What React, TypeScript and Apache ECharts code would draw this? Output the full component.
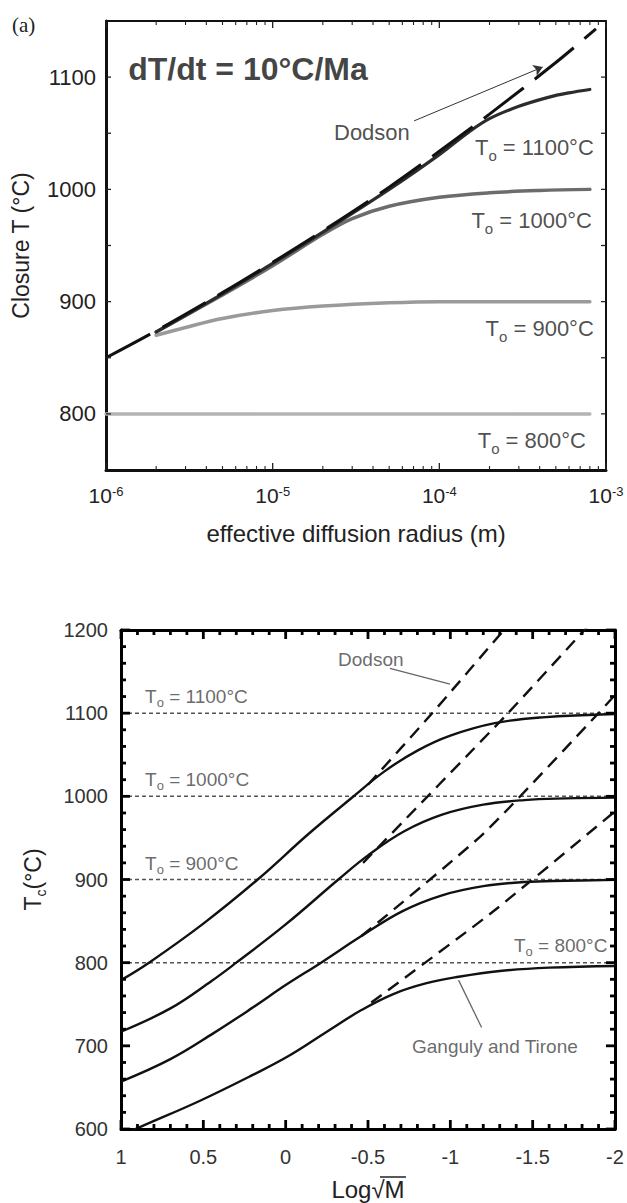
import React, { useEffect, useRef } from "react";
import * as echarts from "echarts";

const FONT = "'Liberation Sans', Arial, Helvetica, sans-serif";

// ---------- Top chart (a): closure T vs effective diffusion radius ----------
const topXMajorTicks = [1e-6, 1e-5, 1e-4, 1e-3];
const topXMinorTicks = [
  2e-6, 3e-6, 4e-6, 5e-6, 6e-6, 7e-6, 8e-6, 9e-6,
  2e-5, 3e-5, 4e-5, 5e-5, 6e-5, 7e-5, 8e-5, 9e-5,
  2e-4, 3e-4, 4e-4, 5e-4, 6e-4, 7e-4, 8e-4, 9e-4,
];
const topYTicks = [800, 900, 1000, 1100];
const topYTickMarks = [800, 850, 900, 950, 1000, 1050, 1100];
const topXRange = [1e-6, 1e-3];
const topYRange = [750, 1150];

const radiusDodson = [1e-6, 2e-6, 5e-6, 1e-5, 2e-5, 5e-5, 1e-4, 2e-4, 5e-4, 8.7e-4];
const closureDodson = [850, 874, 908, 935, 963, 1002, 1034, 1067, 1113, 1143];

const radius1100 = [2e-6, 5e-6, 1e-5, 2e-5, 5e-5, 1e-4, 1.5e-4, 2e-4, 3e-4, 4.5e-4, 6e-4, 8e-4];
const closure1100 = [873, 907, 934, 962, 1000, 1031, 1051, 1063, 1074, 1082, 1086, 1089];

const radius1000 = [2e-6, 5e-6, 1e-5, 2e-5, 3e-5, 5e-5, 1e-4, 2e-4, 4e-4, 8e-4];
const closure1000 = [873, 906, 932, 960, 974, 985, 993, 997, 999, 1000];

const radius900 = [2e-6, 3e-6, 5e-6, 1e-5, 2e-5, 5e-5, 1e-4, 8e-4];
const closure900 = [870, 877, 885, 892, 896, 899, 900, 900];

const radius800 = [1e-6, 8e-4];
const closure800 = [800, 800];

const topLabelTexts = ["T{s|o} = 1100°C", "T{s|o} = 1000°C", "T{s|o} = 900°C", "T{s|o} = 800°C"];
const topLabelX = [8.45e-4, 8.23e-4, 8.45e-4, 7.58e-4];
const topLabelY = [1037, 972, 876, 776];

const topTitle = "dT/dt = 10°C/Ma";
const topTitleAt = [1.36e-6, 1107];
const topDodsonAt = [3.94e-5, 1051];
const topArrowFrom = [7.05e-5, 1061];
const topArrowTo = [4.17e-4, 1109];

// ---------- Bottom chart: Tc vs Log sqrt(M) ----------
const botXMajorTicks = [1, 0.5, 0, -0.5, -1, -1.5, -2];
const botXMinorTicks = [
  0.9, 0.8, 0.7, 0.6, 0.4, 0.3, 0.2, 0.1, -0.1, -0.2, -0.3, -0.4,
  -0.6, -0.7, -0.8, -0.9, -1.1, -1.2, -1.3, -1.4, -1.6, -1.7, -1.8, -1.9,
];
const botYMajorTicks = [600, 700, 800, 900, 1000, 1100, 1200];
const botYMinorTicks = [
  620, 640, 660, 680, 720, 740, 760, 780, 820, 840, 860, 880,
  920, 940, 960, 980, 1020, 1040, 1060, 1080, 1120, 1140, 1160, 1180,
];
const botXRange = [1, -2];
const botYRange = [600, 1200];

const refTemps = [800, 900, 1000, 1100];

const gtX1100 = [1.0, 0.83, 0.5, 0.17, -0.14, -0.4, -0.6, -0.8, -1.0, -1.27, -1.56, -2.0];
const gtT1100 = [779, 800, 847, 900, 955, 998, 1030, 1055, 1073, 1088, 1095, 1099];
const gtX1000 = [1.0, 0.7, 0.45, 0.3, 0.0, -0.32, -0.5, -0.72, -0.95, -1.2, -1.45, -1.7, -2.0];
const gtT1000 = [717, 745, 778, 800, 846, 900, 929, 958, 978, 990, 995.5, 997.5, 998.5];
const gtX900 = [1.0, 0.7, 0.44, 0.2, 0.0, -0.215, -0.46, -0.71, -0.95, -1.2, -1.45, -1.7, -2.0];
const gtT900 = [657, 684, 715, 746, 773, 800, 832, 862, 881, 892, 897, 898.5, 899.5];
const gtX800 = [1.0, 0.865, 0.52, 0.2, -0.02, -0.25, -0.46, -0.65, -0.85, -1.05, -1.3, -1.6, -2.0];
const gtT800 = [592, 604, 634, 665, 688, 717, 743, 762, 775, 783, 790, 794, 796];

const dodX1100 = [-0.5, -0.89, -1.36];
const dodT1100 = [1014, 1100, 1208];
const dodX1000 = [-0.47, -1.35, -1.86];
const dodT1000 = [920, 1100, 1210];
const dodX900 = [-0.46, -1.2, -1.9, -2.0];
const dodT900 = [832, 955, 1100, 1122];
const dodX800 = [-0.52, -1.25, -2.0];
const dodT800 = [752, 860, 982];

const botLabelTexts = ["T{s|o} = 1100°C", "T{s|o} = 1000°C", "T{s|o} = 900°C", "T{s|o} = 800°C"];
const botLabelX = [0.854, 0.854, 0.854, -1.386];
const botLabelY = [1120, 1020, 919, 821];

const botDodsonAt = [-0.318, 1165];
const botDodsonPtrX = [-0.633, -0.998];
const botDodsonPtrY = [1154, 1135];
const botGTAt = [-0.767, 699];
const botGTPtrX = [-1.19, -1.05];
const botGTPtrY = [722, 779];

const zip = (xs: number[], ys: number[]) => xs.map((x, i) => [x, ys[i]]);

const TOPX = 0;
const TOPY = 0;
const BOTX = 2;
const BOTY = 2;

function tickSeries(
  name: string,
  xIdx: number,
  yIdx: number,
  points: number[][],
  dx: number,
  dy: number,
  width: number,
  color: string
) {
  return {
    name,
    type: "custom",
    coordinateSystem: "cartesian2d",
    xAxisIndex: xIdx,
    yAxisIndex: yIdx,
    silent: true,
    clip: false,
    z: 10,
    encode: { x: 0, y: 1 },
    data: points,
    renderItem: (_params: any, api: any) => {
      const p = api.coord([api.value(0), api.value(1)]);
      return {
        type: "line",
        shape: { x1: p[0], y1: p[1], x2: p[0] + dx, y2: p[1] + dy },
        style: { stroke: color, lineWidth: width, fill: "none" },
      };
    },
  };
}

function buildOption(): any {
  const topLine = (name: string, xs: number[], ys: number[], color: string, width: number) => ({
    name,
    type: "line",
    xAxisIndex: TOPX,
    yAxisIndex: TOPY,
    data: zip(xs, ys),
    symbol: "none",
    smooth: 0.35,
    lineStyle: { color, width, cap: "round" },
    z: 3,
  });

  const botLine = (name: string, xs: number[], ys: number[], dashed: boolean) => ({
    name,
    type: "line",
    xAxisIndex: BOTX,
    yAxisIndex: BOTY,
    data: zip(xs, ys),
    symbol: "none",
    smooth: dashed ? 0.2 : 0.4,
    lineStyle: dashed
      ? { color: "#111", width: 2.4, type: [13, 8] }
      : { color: "#111", width: 2.4 },
    z: 4,
  });

  const subRichTop = {
    s: { fontSize: 15, lineHeight: 14, verticalAlign: "bottom", fontFamily: FONT, color: "#222" },
  };
  const subRichBot = {
    s: { fontSize: 13, lineHeight: 12, verticalAlign: "bottom", fontFamily: FONT, color: "#444" },
  };

  const tc = "#222";
  const bc = "#000";
  const ticks: any[] = [
    tickSeries("tx-maj-b", TOPX, TOPY, topXMajorTicks.map((v) => [v, topYRange[0]]), 0, -7, 1.3, tc),
    tickSeries("tx-min-b", TOPX, TOPY, topXMinorTicks.map((v) => [v, topYRange[0]]), 0, -4, 1.1, tc),
    tickSeries("tx-maj-t", TOPX, TOPY, topXMajorTicks.map((v) => [v, topYRange[1]]), 0, 7, 1.3, tc),
    tickSeries("tx-min-t", TOPX, TOPY, topXMinorTicks.map((v) => [v, topYRange[1]]), 0, 4, 1.1, tc),
    tickSeries("ty-l", TOPX, TOPY, topYTickMarks.map((v) => [topXRange[0], v]), 5, 0, 1.3, tc),
    tickSeries("ty-r", TOPX, TOPY, topYTickMarks.map((v) => [topXRange[1], v]), -5, 0, 1.3, tc),
    tickSeries("bx-maj-b", BOTX, BOTY, botXMajorTicks.map((v) => [v, botYRange[0]]), 0, -9, 2.8, bc),
    tickSeries("bx-min-b", BOTX, BOTY, botXMinorTicks.map((v) => [v, botYRange[0]]), 0, -5, 2.8, bc),
    tickSeries("bx-maj-t", BOTX, BOTY, botXMajorTicks.map((v) => [v, botYRange[1]]), 0, 9, 2.8, bc),
    tickSeries("bx-min-t", BOTX, BOTY, botXMinorTicks.map((v) => [v, botYRange[1]]), 0, 5, 2.8, bc),
    tickSeries("by-maj-l", BOTX, BOTY, botYMajorTicks.map((v) => [botXRange[0], v]), 9, 0, 2.8, bc),
    tickSeries("by-min-l", BOTX, BOTY, botYMinorTicks.map((v) => [botXRange[0], v]), 5, 0, 2.8, bc),
    tickSeries("by-maj-r", BOTX, BOTY, botYMajorTicks.map((v) => [botXRange[1], v]), -9, 0, 2.8, bc),
    tickSeries("by-min-r", BOTX, BOTY, botYMinorTicks.map((v) => [botXRange[1], v]), -5, 0, 2.8, bc),
  ];

  const series: any[] = [
    topLine("T0 = 800°C", radius800, closure800, "#b4b4b4", 3.5),
    topLine("T0 = 900°C", radius900, closure900, "#9a9a9a", 3.5),
    topLine("T0 = 1000°C", radius1000, closure1000, "#6c6c6c", 3.5),
    topLine("T0 = 1100°C", radius1100, closure1100, "#2c2c2c", 3.2),
    {
      name: "Dodson (a)",
      type: "line",
      xAxisIndex: TOPX,
      yAxisIndex: TOPY,
      data: zip(radiusDodson, closureDodson),
      symbol: "none",
      smooth: 0.35,
      lineStyle: { color: "#111", width: 3, type: [50, 14] },
      z: 5,
      markLine: {
        silent: true,
        symbol: ["none", "arrow"],
        symbolSize: 9,
        lineStyle: { color: "#333", width: 1, type: "solid" },
        label: { show: false },
        data: [[{ coord: topArrowFrom }, { coord: topArrowTo }]],
      },
    },
    {
      name: "top labels",
      type: "scatter",
      xAxisIndex: TOPX,
      yAxisIndex: TOPY,
      symbolSize: 0,
      silent: true,
      z: 6,
      data: [
        ...topLabelTexts.map((t, i) => ({
          value: [topLabelX[i], topLabelY[i]],
          label: {
            show: true,
            position: "left",
            distance: 0,
            formatter: t,
            fontSize: 22,
            lineHeight: 30,
            color: "#222",
            fontFamily: FONT,
            rich: subRichTop,
          },
        })),
        {
          value: topTitleAt,
          label: {
            show: true,
            position: "right",
            distance: 0,
            formatter: topTitle,
            fontSize: 32,
            fontWeight: "bold",
            color: "#111",
            fontFamily: FONT,
          },
        },
        {
          value: topDodsonAt,
          label: {
            show: true,
            position: "inside",
            formatter: "Dodson",
            fontSize: 22,
            color: "#222",
            fontFamily: FONT,
          },
        },
      ],
    },
    ...refTemps.map((t) => ({
      name: "ref " + t,
      type: "line",
      xAxisIndex: BOTX,
      yAxisIndex: BOTY,
      data: botXRange.map((x) => [x, t]),
      symbol: "none",
      lineStyle: { color: "#555", width: 1.5, type: [4, 3] },
      z: 2,
    })),
    botLine("GT 1100", gtX1100, gtT1100, false),
    botLine("GT 1000", gtX1000, gtT1000, false),
    botLine("GT 900", gtX900, gtT900, false),
    botLine("GT 800", gtX800, gtT800, false),
    botLine("Dodson 1100", dodX1100, dodT1100, true),
    botLine("Dodson 1000", dodX1000, dodT1000, true),
    botLine("Dodson 900", dodX900, dodT900, true),
    botLine("Dodson 800", dodX800, dodT800, true),
    {
      name: "Dodson pointer",
      type: "line",
      xAxisIndex: BOTX,
      yAxisIndex: BOTY,
      data: zip(botDodsonPtrX, botDodsonPtrY),
      symbol: "none",
      lineStyle: { color: "#666", width: 1.3 },
      z: 3,
    },
    {
      name: "GT pointer",
      type: "line",
      xAxisIndex: BOTX,
      yAxisIndex: BOTY,
      data: zip(botGTPtrX, botGTPtrY),
      symbol: "none",
      lineStyle: { color: "#666", width: 1.3 },
      z: 3,
    },
    {
      name: "bottom labels",
      type: "scatter",
      xAxisIndex: BOTX,
      yAxisIndex: BOTY,
      symbolSize: 0,
      silent: true,
      z: 6,
      data: [
        ...botLabelTexts.map((t, i) => ({
          value: [botLabelX[i], botLabelY[i]],
          label: {
            show: true,
            position: "right",
            distance: 0,
            formatter: t,
            fontSize: 19,
            lineHeight: 25,
            color: "#444",
            fontFamily: FONT,
            rich: subRichBot,
          },
        })),
        {
          value: botDodsonAt,
          label: { show: true, position: "right", distance: 0, formatter: "Dodson", fontSize: 19, color: "#444", fontFamily: FONT },
        },
        {
          value: botGTAt,
          label: { show: true, position: "right", distance: 0, formatter: "Ganguly and Tirone", fontSize: 19, color: "#444", fontFamily: FONT },
        },
      ],
    },
    ...ticks,
  ];

  const noSplit = { show: false };
  const noTick = { show: false };

  return {
    animation: false,
    backgroundColor: "#fff",
    textStyle: { fontFamily: FONT },
    grid: [
      { left: 106, top: 21, width: 500, height: 449, show: false },
      { left: 121, top: 630, width: 494, height: 499, show: false },
    ],
    xAxis: [
      {
        gridIndex: 0,
        type: "log",
        logBase: 10,
        min: topXRange[0],
        max: topXRange[1],
        position: "bottom",
        axisLine: { show: true, lineStyle: { color: "#111", width: 3 } },
        axisTick: noTick,
        axisLabel: {
          fontSize: 21,
          lineHeight: 20,
          color: "#222",
          margin: 15,
          formatter: (v: number) => "10{sup|" + Math.round(Math.log10(v)) + "}",
          rich: { sup: { fontSize: 13, lineHeight: 12, verticalAlign: "top", color: "#222", fontFamily: FONT } },
        },
        splitLine: noSplit,
        name: "effective diffusion radius (m)",
        nameLocation: "middle",
        nameGap: 51,
        nameTextStyle: { fontSize: 24, lineHeight: 24, color: "#222", fontFamily: FONT },
      },
      {
        gridIndex: 0,
        type: "log",
        logBase: 10,
        min: topXRange[0],
        max: topXRange[1],
        position: "top",
        axisLine: { show: true, lineStyle: { color: "#111", width: 2 } },
        axisTick: noTick,
        axisLabel: { show: false },
        splitLine: noSplit,
      },
      {
        gridIndex: 1,
        type: "value",
        min: -2,
        max: 1,
        interval: 0.5,
        inverse: true,
        position: "bottom",
        axisLine: { show: true, onZero: false, lineStyle: { color: "#000", width: 3 } },
        axisTick: noTick,
        axisLabel: { fontSize: 20, lineHeight: 20, color: "#333", margin: 18, fontFamily: FONT, formatter: (v: number) => String(v) },
        splitLine: noSplit,
      },
      {
        gridIndex: 1,
        type: "value",
        min: -2,
        max: 1,
        interval: 0.5,
        inverse: true,
        position: "top",
        axisLine: { show: true, onZero: false, lineStyle: { color: "#000", width: 3 } },
        axisTick: noTick,
        axisLabel: { show: false },
        splitLine: noSplit,
      },
    ],
    yAxis: [
      {
        gridIndex: 0,
        type: "value",
        min: topYRange[0],
        max: topYRange[1],
        interval: 50,
        position: "left",
        axisLine: { show: true, onZero: false, lineStyle: { color: "#111", width: 3 } },
        axisTick: noTick,
        axisLabel: {
          fontSize: 22,
          color: "#222",
          margin: 10,
          fontFamily: FONT,
          formatter: (v: number) => (topYTicks.includes(v) ? String(v) : ""),
        },
        splitLine: noSplit,
        name: "Closure T (°C)",
        nameLocation: "middle",
        nameGap: 74,
        nameTextStyle: { fontSize: 23, lineHeight: 23, color: "#222", fontFamily: FONT },
      },
      {
        gridIndex: 0,
        type: "value",
        min: topYRange[0],
        max: topYRange[1],
        interval: 50,
        position: "right",
        axisLine: { show: true, onZero: false, lineStyle: { color: "#111", width: 2 } },
        axisTick: noTick,
        axisLabel: { show: false },
        splitLine: noSplit,
      },
      {
        gridIndex: 1,
        type: "value",
        min: botYRange[0],
        max: botYRange[1],
        interval: 100,
        position: "left",
        axisLine: { show: true, onZero: false, lineStyle: { color: "#000", width: 3 } },
        axisTick: noTick,
        axisLabel: { fontSize: 20, color: "#333", margin: 13, fontFamily: FONT, formatter: (v: number) => String(v) },
        splitLine: noSplit,
        name: "T{s|c}(°C)",
        nameLocation: "middle",
        nameGap: 73,
        nameTextStyle: {
          fontSize: 23,
          lineHeight: 30,
          color: "#222",
          fontFamily: FONT,
          rich: { s: { fontSize: 14, lineHeight: 14, verticalAlign: "bottom", color: "#222", fontFamily: FONT } },
        },
      },
      {
        gridIndex: 1,
        type: "value",
        min: botYRange[0],
        max: botYRange[1],
        interval: 100,
        position: "right",
        axisLine: { show: true, onZero: false, lineStyle: { color: "#000", width: 3 } },
        axisTick: noTick,
        axisLabel: { show: false },
        splitLine: noSplit,
      },
    ],
    graphic: [
      {
        type: "text",
        x: 12,
        y: 25,
        style: {
          text: "(a)",
          fontSize: 21,
          fontFamily: "'Liberation Serif', 'Times New Roman', serif",
          fill: "#222",
          verticalAlign: "middle",
        },
      },
      {
        type: "text",
        x: 368,
        y: 1189,
        style: {
          text: "Log√M",
          fontSize: 24,
          fontFamily: FONT,
          fill: "#222",
          align: "center",
          verticalAlign: "middle",
        },
      },
      {
        type: "line",
        shape: { x1: 380, y1: 1177, x2: 406, y2: 1177 },
        style: { stroke: "#222", lineWidth: 1.5 },
      },
    ],
    series,
  };
}

export default function App() {
  const ref = useRef<HTMLDivElement>(null);
  useEffect(() => {
    document.body.style.margin = "0";
    const chart = echarts.init(ref.current as HTMLDivElement, null, { renderer: "svg" });
    chart.setOption(buildOption());
    return () => {
      chart.dispose();
    };
  }, []);
  return (
    <div
      ref={ref}
      style={{ position: "absolute", left: 0, top: 0, width: 627, height: 1203, background: "#fff" }}
    />
  );
}
